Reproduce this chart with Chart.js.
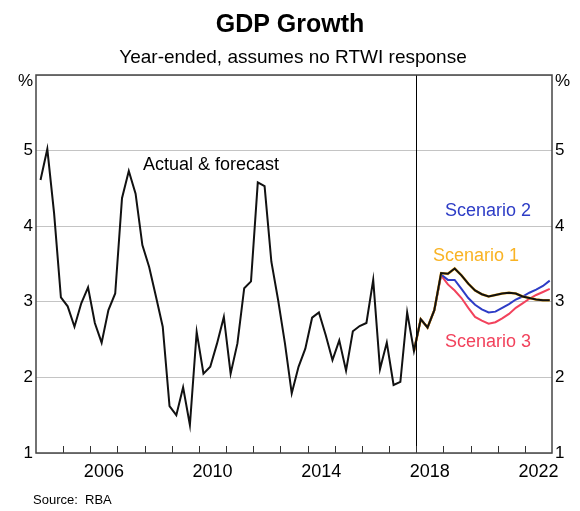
<!DOCTYPE html>
<html>
<head>
<meta charset="utf-8">
<script src="https://cdn.jsdelivr.net/npm/chart.js@4.4.1/dist/chart.umd.min.js"></script>
<style>
  html, body { margin: 0; padding: 0; background: #fff; }
  #wrap { width: 580px; height: 511px; }
</style>
</head>
<body>
<div id="wrap"><canvas id="gdpChart" width="580" height="511"></canvas></div>
<script>
const firstYear = 2004;
const lastYear = 2023;
const yearLabels = [2006, 2010, 2014, 2018, 2022];
const forecastStart = 2018;

// Year-ended GDP growth, quarterly from 2004 Q1; actual to 2017 Q4, then forecast to 2022 Q4
const actualForecast = [
  4.61, 5.02, 4.17, 3.06, 2.94, 2.67, 2.98, 3.19, 2.72, 2.46,
  2.89, 3.11, 4.37, 4.73, 4.43, 3.75, 3.46, 3.07, 2.67, 1.62,
  1.50, 1.87, 1.37, 2.60, 2.05, 2.14, 2.45, 2.80, 2.05, 2.45,
  3.18, 3.27, 4.58, 4.53, 3.53, 3.02, 2.45, 1.79, 2.14, 2.38,
  2.79, 2.86, 2.56, 2.23, 2.49, 2.09, 2.61, 2.68, 2.72, 3.29,
  2.11, 2.46, 1.90, 1.94, 2.86, 2.35,
  2.77, 2.66, 2.89, 3.38, 3.37, 3.44, 3.35, 3.24, 3.15, 3.10,
  3.07, 3.09, 3.11, 3.12, 3.11, 3.07, 3.05, 3.03, 3.02, 3.02
];

// Scenarios, quarterly from 2017 Q4 to 2022 Q4
const scenarioStart = 55;
const scenario1 = [2.35, 2.77, 2.66, 2.89, 3.38, 3.37, 3.44, 3.35, 3.24, 3.15, 3.10,
  3.07, 3.09, 3.11, 3.12, 3.11, 3.07, 3.05, 3.03, 3.02, 3.02];
const scenario2 = [2.35, 2.77, 2.66, 2.89, 3.36, 3.29, 3.29, 3.17, 3.05, 2.96, 2.90,
  2.86, 2.87, 2.92, 2.97, 3.03, 3.07, 3.12, 3.16, 3.21, 3.28];
const scenario3 = [2.35, 2.77, 2.66, 2.89, 3.35, 3.23, 3.15, 3.05, 2.92, 2.80, 2.75,
  2.71, 2.73, 2.78, 2.84, 2.92, 2.98, 3.04, 3.09, 3.13, 3.17];

const FONT = "'Liberation Sans', Arial, sans-serif";
const colBlack = '#111111';
const colOrange = '#f9b324';
const colBlue = '#2d3cc6';
const colRed = '#f2425c';

// quarter n (from 2004 Q1) sits at the end of the quarter's middle month
function quarterX(n) {
  return firstYear + Math.floor(n / 4) + ((n % 4) * 3 + 2) / 12;
}

function toPoints(values, offset) {
  return values.map((v, i) => ({ x: quarterX(i + offset), y: v }));
}

function lineSet(label, values, offset, color, width) {
  return {
    label,
    data: toPoints(values, offset),
    borderColor: color,
    borderWidth: width,
    pointRadius: 0,
    tension: 0,
    fill: false,
  };
}

const rbaDecor = {
  id: 'rbaDecor',
  afterDatasetsDraw(chart) {
    const { ctx, chartArea: a, scales: { x } } = chart;
    ctx.save();
    // forecast divider
    const fx = Math.round(x.getPixelForValue(forecastStart)) + 0.5;
    ctx.strokeStyle = '#000';
    ctx.lineWidth = 1;
    ctx.beginPath();
    ctx.moveTo(fx, a.top);
    ctx.lineTo(fx, a.bottom);
    ctx.stroke();
    // year ticks pointing inward
    ctx.strokeStyle = '#333';
    ctx.beginPath();
    for (let yr = firstYear + 1; yr < lastYear; yr++) {
      const tx = Math.round(x.getPixelForValue(yr)) + 0.5;
      ctx.moveTo(tx, a.bottom);
      ctx.lineTo(tx, a.bottom - 7);
    }
    ctx.stroke();
    // frame
    ctx.strokeStyle = '#444';
    ctx.lineWidth = 1.5;
    ctx.strokeRect(a.left, a.top, a.right - a.left, a.bottom - a.top);
    ctx.restore();
  },
  afterDraw(chart) {
    const { ctx, chartArea: a } = chart;
    const text = (str, px, py, font, color, align) => {
      ctx.font = font;
      ctx.fillStyle = color;
      ctx.textAlign = align || 'left';
      ctx.textBaseline = 'middle';
      ctx.fillText(str, px, py);
    };
    ctx.save();
    text('GDP Growth', 290, 25, `bold 25px ${FONT}`, '#000', 'center');
    text('Year-ended, assumes no RTWI response', 293, 58, `19px ${FONT}`, '#000', 'center');
    text('%', a.left - 3, 81, `17px ${FONT}`, '#000', 'right');
    text('%', a.right + 3, 81, `17px ${FONT}`, '#000', 'left');
    text('Actual & forecast', 143, 165, `18px ${FONT}`, '#000');
    text('Scenario 2', 445, 211, `18px ${FONT}`, colBlue);
    text('Scenario 1', 433, 256, `18px ${FONT}`, colOrange);
    text('Scenario 3', 445, 342, `18px ${FONT}`, colRed);
    text('Source:  RBA', 33, 500, `13px ${FONT}`, '#000');
    ctx.restore();
  }
};

const yTicks = {
  stepSize: 1,
  padding: 3,
  color: '#000',
  font: { family: FONT, size: 17 },
  callback: v => (v === 6 ? '' : v),
};

new Chart(document.getElementById('gdpChart'), {
  type: 'line',
  data: {
    datasets: [
      lineSet('Actual & forecast', actualForecast, 0, colBlack, 2),
      lineSet('Scenario 1', scenario1, scenarioStart, colOrange, 2.5),
      lineSet('Scenario 2', scenario2, scenarioStart, colBlue, 2),
      lineSet('Scenario 3', scenario3, scenarioStart, colRed, 2),
    ],
  },
  options: {
    responsive: false,
    animation: false,
    layout: { padding: { top: 75, left: 0, right: 0, bottom: 0 } },
    plugins: {
      legend: { display: false },
      tooltip: { enabled: false },
    },
    scales: {
      x: {
        type: 'linear',
        min: firstYear,
        max: lastYear,
        grid: { display: false, drawTicks: false },
        border: { display: false },
        ticks: {
          autoSkip: false,
          maxRotation: 0,
          padding: 8,
          color: '#000',
          font: { family: FONT, size: 18 },
          callback: v => String(Math.floor(v)),
        },
        afterBuildTicks: s => { s.ticks = yearLabels.map(y => ({ value: y + 0.5 })); },
        afterFit: s => { s.height = 58; },
      },
      y: {
        position: 'left',
        min: 1,
        max: 6,
        ticks: yTicks,
        grid: { color: '#c4c4c4', lineWidth: 1, drawTicks: false },
        border: { display: false },
        afterFit: s => { s.width = 36; },
      },
      y2: {
        position: 'right',
        min: 1,
        max: 6,
        ticks: yTicks,
        grid: { display: false, drawTicks: false },
        border: { display: false },
        afterFit: s => { s.width = 28; },
      },
    },
  },
  plugins: [rbaDecor],
});
</script>
</body>
</html>
